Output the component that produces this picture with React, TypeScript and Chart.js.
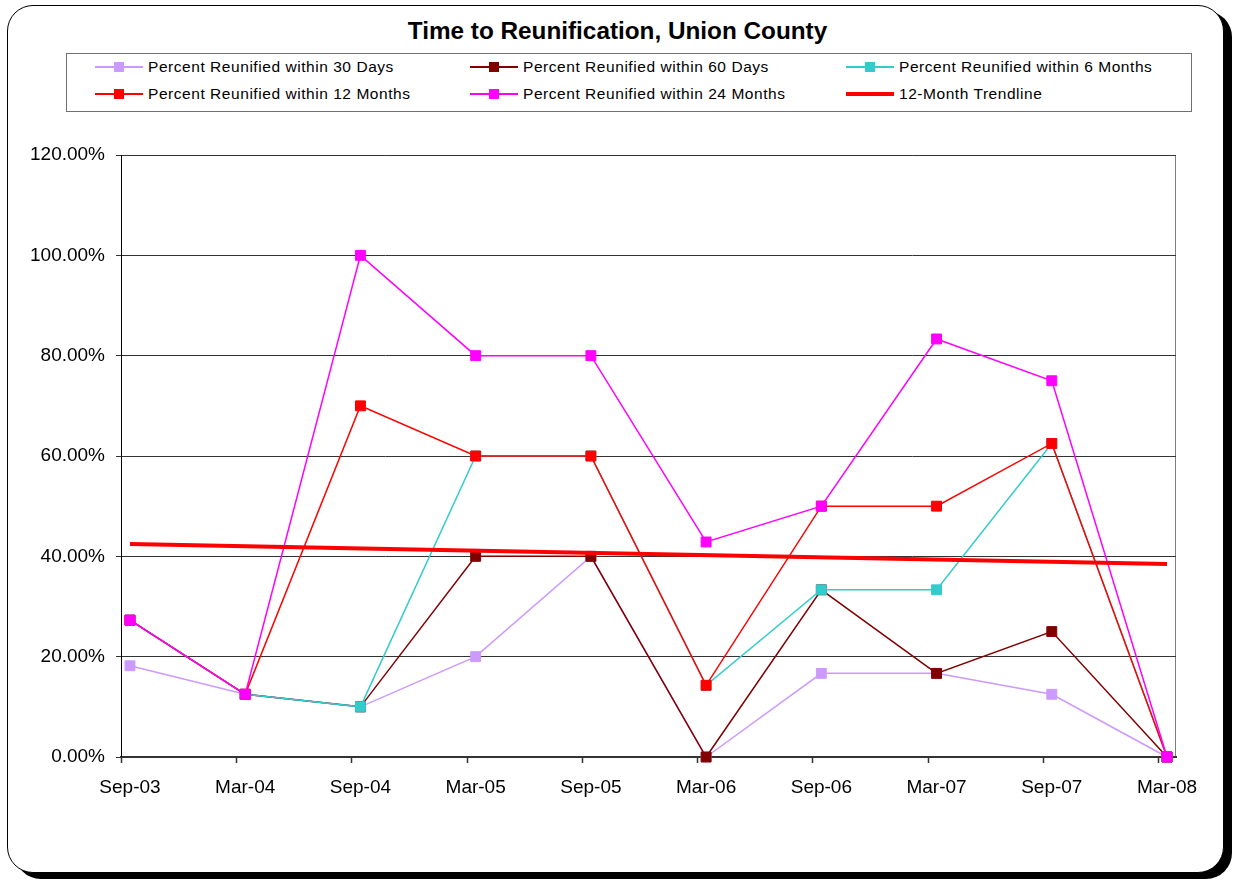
import React, { useEffect, useRef } from "react";
import { Chart, registerables } from "chart.js";

Chart.register(...registerables);

const TITLE = "Time to Reunification, Union County";
const LABELS = ["Sep-03", "Mar-04", "Sep-04", "Mar-05", "Sep-05", "Mar-06", "Sep-06", "Mar-07", "Sep-07", "Mar-08"];
const D30 = [18.18, 12.5, 10, 20, 40, 0, 16.67, 16.67, 12.5, 0];
const D60 = [27.27, 12.5, 10, 40, 40, 0, 33.33, 16.67, 25, 0];
const M6 = [27.27, 12.5, 10, 60, 60, 14.29, 33.33, 33.33, 62.5, 0];
const M12 = [27.27, 12.5, 70, 60, 60, 14.29, 50, 50, 62.5, 0];
const M24 = [27.27, 12.5, 100, 80, 80, 42.86, 50, 83.33, 75, 0];
const TREND_X = [0, 9];
const TREND_Y = [42.45, 38.45];
const Y_TICKS = [0, 20, 40, 60, 80, 100, 120];

const SERIES = [
  { label: "Percent Reunified within 30 Days", data: D30, color: "#CC99FF", order: 5 },
  { label: "Percent Reunified within 60 Days", data: D60, color: "#800000", order: 4 },
  { label: "Percent Reunified within 6 Months", data: M6, color: "#33CCCC", order: 3 },
  { label: "Percent Reunified within 12 Months", data: M12, color: "#FF0000", order: 2 },
  { label: "Percent Reunified within 24 Months", data: M24, color: "#FF00FF", order: 1 },
];
const TREND = { label: "12-Month Trendline", color: "#FF0000" };

const X_PAD = 0.078;
const FONT = "'Liberation Sans', Arial, Helvetica, sans-serif";

const plotDecor = {
  id: "plotDecor",
  beforeDraw(chart: any) {
    const { ctx, chartArea } = chart;
    ctx.save();
    ctx.strokeStyle = "#808080";
    ctx.lineWidth = 1;
    ctx.strokeRect(chartArea.left + 0.5, chartArea.top + 0.5, chartArea.right - chartArea.left - 1, chartArea.bottom - chartArea.top);
    ctx.restore();
  },
  afterDraw(chart: any) {
    const { ctx, chartArea } = chart;
    const xs = chart.scales.x;
    ctx.save();
    ctx.strokeStyle = "#333";
    ctx.lineWidth = 1.5;
    LABELS.forEach((_, i) => {
      const px = Math.round(xs.getPixelForValue(i - X_PAD)) + 0.5;
      ctx.beginPath();
      ctx.moveTo(px, chartArea.bottom);
      ctx.lineTo(px, chartArea.bottom + 6);
      ctx.stroke();
    });
    ctx.restore();
  },
};

export default function App() {
  const ref = useRef<HTMLCanvasElement | null>(null);

  useEffect(() => {
    if (!ref.current) return;
    const datasets: any[] = SERIES.map((s) => ({
      label: s.label,
      data: s.data.map((v, i) => ({ x: i, y: v })),
      borderColor: s.color,
      backgroundColor: s.color,
      borderWidth: 1.5,
      pointStyle: "rect",
      pointRadius: 7,
      pointBorderWidth: 1,
      pointBackgroundColor: s.color,
      pointBorderColor: s.color,
      tension: 0,
      clip: false,
      order: s.order,
    }));
    datasets.push({
      label: TREND.label,
      data: TREND_X.map((x, i) => ({ x, y: TREND_Y[i] })),
      borderColor: TREND.color,
      backgroundColor: TREND.color,
      borderWidth: 4,
      pointRadius: 0,
      clip: false,
      order: 0,
    });

    const chart = new Chart(ref.current, {
      type: "line",
      data: { datasets },
      options: {
        animation: false,
        responsive: false,
        maintainAspectRatio: false,
        layout: { padding: { top: 15, right: 44, bottom: 3, left: 0 } },
        plugins: { legend: { display: false }, title: { display: false }, tooltip: { enabled: false } },
        scales: {
          x: {
            type: "linear",
            min: -X_PAD,
            max: LABELS.length - 1 + X_PAD,
            afterBuildTicks: (s: any) => {
              s.ticks = LABELS.map((_, i) => ({ value: i }));
            },
            afterFit: (s: any) => {
              s.height = 60;
              s.paddingLeft = 0;
              s.paddingRight = 0;
            },
            grid: { display: false },
            border: { display: true, color: "#333", width: 2 },
            ticks: {
              autoSkip: false,
              maxRotation: 0,
              padding: 11,
              color: "#000",
              font: { family: FONT, size: 19 },
              callback: (v: any) => LABELS[Math.round(Number(v))] ?? "",
            },
          },
          y: {
            type: "linear",
            min: Y_TICKS[0],
            max: Y_TICKS[Y_TICKS.length - 1],
            afterBuildTicks: (s: any) => {
              s.ticks = Y_TICKS.map((v) => ({ value: v }));
            },
            afterFit: (s: any) => {
              s.width = 111;
              s.paddingTop = 0;
              s.paddingBottom = 0;
            },
            grid: { color: "#333", lineWidth: 1, drawTicks: true, tickLength: 5, tickColor: "#333" },
            border: { display: true, color: "#000", width: 1 },
            ticks: {
              padding: 11,
              color: "#000",
              font: { family: FONT, size: 19 },
              callback: (v: any) => Number(v).toFixed(2) + "%",
            },
          },
        },
      },
      plugins: [plotDecor],
    });
    return () => chart.destroy();
  }, []);

  const legendItems = [
    ...SERIES.map((s) => ({ label: s.label, color: s.color, trend: false })),
    { label: TREND.label, color: TREND.color, trend: true },
  ];
  const colX = [95, 470, 846];
  const rowY = [67, 94];

  return (
    <div style={{ position: "absolute", left: 0, top: 0, width: 1235, height: 880, background: "#fff", overflow: "hidden", fontFamily: FONT }}>
      <div
        style={{
          position: "absolute",
          left: 7,
          top: 5,
          width: 1215,
          height: 866,
          border: "1.5px solid #000",
          borderRadius: 26,
          boxShadow: "8px 6px 0 0 #000",
          background: "#fff",
        }}
      />
      <div style={{ position: "absolute", left: 0, top: 16, width: 1235, textAlign: "center", fontWeight: "bold", fontSize: 24.3, lineHeight: "30px", color: "#000" }}>
        {TITLE}
      </div>
      <div style={{ position: "absolute", left: 66, top: 53, width: 1124, height: 57, border: "1.5px solid #707070" }} />
      {legendItems.map((it, i) => {
        const x = colX[i % 3];
        const y = rowY[Math.floor(i / 3)];
        return (
          <div key={it.label} style={{ position: "absolute", left: x, top: y - 10, height: 20, width: 360 }}>
            <div style={{ position: "absolute", left: 0, top: it.trend ? 8 : 9.25, width: 48, height: it.trend ? 4 : 1.5, background: it.color }} />
            {!it.trend && <div style={{ position: "absolute", left: 19, top: 5, width: 10, height: 10, background: it.color }} />}
            <div style={{ position: "absolute", left: 53, top: 0, lineHeight: "20px", fontSize: 15.5, letterSpacing: 0.55, whiteSpace: "nowrap", color: "#000" }}>
              {it.label}
            </div>
          </div>
        );
      })}
      <canvas ref={ref} width={1210} height={680} style={{ position: "absolute", left: 10, top: 140, width: 1210, height: 680, display: "block" }} />
    </div>
  );
}
